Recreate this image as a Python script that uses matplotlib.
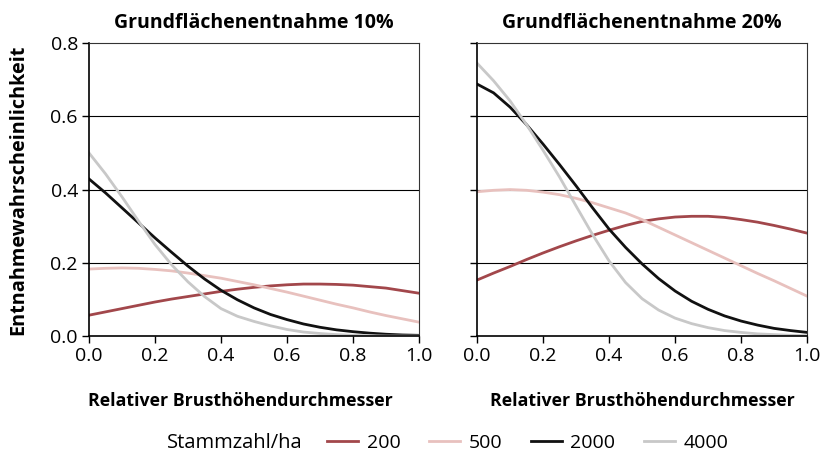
import matplotlib.pyplot as plt

# relativer BHD (x) und Entnahmewahrscheinlichkeit je Stammzahl
x = [0.0, 0.05, 0.1, 0.15, 0.2, 0.25, 0.3, 0.35, 0.4, 0.45, 0.5,
     0.55, 0.6, 0.65, 0.7, 0.75, 0.8, 0.85, 0.9, 0.95, 1.0]

labels = ['200', '500', '2000', '4000']
colors = ['#a2474b', '#e8c1be', '#111111', '#c8c8c8']

# Grundflaechenentnahme 10%
p10_200 = [0.057, 0.066, 0.075, 0.084, 0.093, 0.101, 0.108, 0.115, 0.122, 0.128, 0.133,
           0.137, 0.140, 0.142, 0.142, 0.141, 0.139, 0.135, 0.131, 0.124, 0.117]
p10_500 = [0.183, 0.185, 0.186, 0.185, 0.182, 0.178, 0.172, 0.165, 0.158, 0.149, 0.140,
           0.130, 0.120, 0.109, 0.098, 0.087, 0.077, 0.066, 0.056, 0.047, 0.038]
p10_2000 = [0.429, 0.391, 0.35, 0.309, 0.268, 0.229, 0.191, 0.156, 0.125, 0.099, 0.077,
            0.059, 0.045, 0.033, 0.024, 0.017, 0.012, 0.008, 0.005, 0.003, 0.002]
p10_4000 = [0.50, 0.443, 0.38, 0.314, 0.25, 0.195, 0.148, 0.108, 0.075, 0.054, 0.04,
            0.028, 0.018, 0.011, 0.007, 0.004, 0.002, 0.001, 0.0, 0.0, 0.0]

# Grundflaechenentnahme 20%
p20_200 = [0.153, 0.172, 0.19, 0.209, 0.227, 0.244, 0.26, 0.275, 0.289, 0.302, 0.313,
           0.32, 0.325, 0.327, 0.327, 0.324, 0.318, 0.311, 0.302, 0.292, 0.281]
p20_500 = [0.394, 0.398, 0.40, 0.398, 0.393, 0.386, 0.376, 0.364, 0.35, 0.336, 0.318,
           0.297, 0.276, 0.255, 0.234, 0.213, 0.192, 0.171, 0.151, 0.13, 0.109]
p20_2000 = [0.688, 0.664, 0.625, 0.577, 0.524, 0.468, 0.41, 0.35, 0.292, 0.242, 0.197,
            0.157, 0.123, 0.095, 0.073, 0.055, 0.041, 0.03, 0.021, 0.015, 0.01]
p20_4000 = [0.745, 0.697, 0.642, 0.577, 0.507, 0.434, 0.355, 0.277, 0.205, 0.146, 0.102,
            0.071, 0.049, 0.034, 0.023, 0.015, 0.01, 0.006, 0.004, 0.002, 0.001]

panels = [('Grundflächenentnahme 10%', [p10_200, p10_500, p10_2000, p10_4000]),
          ('Grundflächenentnahme 20%', [p20_200, p20_500, p20_2000, p20_4000])]

plt.rcParams['font.family'] = ['Open Sans', 'DejaVu Sans']

fig = plt.figure(figsize=(8.24, 4.61), dpi=100)
ax1 = fig.add_axes([0.108, 0.271, 0.4005, 0.6356])
ax2 = fig.add_axes([0.579, 0.271, 0.4005, 0.6356])

for ax, (title, series) in zip([ax1, ax2], panels):
    for y in [0.2, 0.4, 0.6]:
        ax.axhline(y, color='black', lw=0.8, zorder=1)
    lines = []
    for vals, c, lab in zip(series, colors, labels):
        ln, = ax.plot(x, vals, color=c, lw=2.0, label=lab, zorder=2)
        lines.append(ln)
    ax.set_xlim(0, 1)
    ax.set_ylim(0, 0.8)
    ax.set_xticks([0, 0.2, 0.4, 0.6, 0.8, 1.0])
    ax.set_xticklabels(['0.0', '0.2', '0.4', '0.6', '0.8', '1.0'])
    ax.set_yticks([0, 0.2, 0.4, 0.6, 0.8])
    ax.tick_params(direction='out', length=5, width=1, labelsize=14, pad=3)
    ax.set_title(title, fontsize=14, fontweight='bold', pad=11)
    ax.set_xlabel('Relativer Brusthöhendurchmesser', fontsize=12.8,
                  fontweight='bold')
    for s in ['top', 'right']:
        ax.spines[s].set_color('#333333')
        ax.spines[s].set_linewidth(0.8)
    for s in ['left', 'bottom']:
        ax.spines[s].set_linewidth(1.2)

ax1.xaxis.set_label_coords(0.46, -0.19)
ax2.xaxis.set_label_coords(0.5, -0.19)
ax1.set_yticklabels(['0.0', '0.2', '0.4', '0.6', '0.8'])
ax1.set_ylabel('Entnahmewahrscheinlichkeit', fontsize=14.3, fontweight='bold')
ax1.yaxis.set_label_coords(-0.185, 0.5)
ax2.set_yticklabels([])

fig.text(0.285, 0.04, 'Stammzahl/ha', fontsize=14.5, ha='center', va='center')
fig.legend(handles=lines, labels=labels, ncol=4, frameon=False, fontsize=14,
           loc='center left', bbox_to_anchor=(0.397, 0.04), handlelength=1.6,
           columnspacing=1.45, handletextpad=0.45, borderpad=0, borderaxespad=0)

fig.savefig('out.png', dpi=100)
